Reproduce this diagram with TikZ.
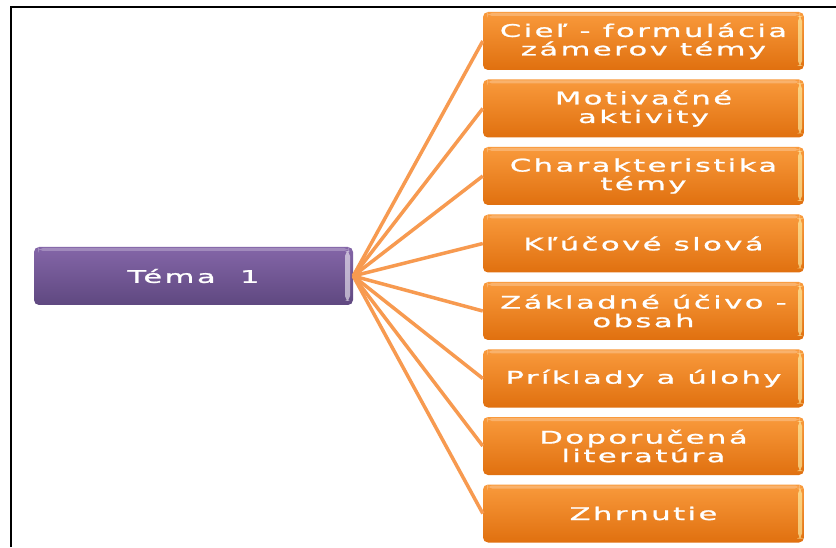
\documentclass[tikz,border=0pt]{standalone}
\usepackage{fontspec}
\newfontfamily\boxfont[FakeStretch=1.75,LetterSpace=14,FakeBold=1.2]{DejaVu Sans}
\definecolor{orangeTop}{HTML}{F99A3C}
\definecolor{orangeBot}{HTML}{E0700F}
\definecolor{purpleTop}{HTML}{8466A8}
\definecolor{purpleBot}{HTML}{5F4880}
\definecolor{linkOrange}{HTML}{F79A50}
\tikzset{
  boxbase/.style={rounded corners=5pt, minimum width=321pt, minimum height=58pt,
    text=white, align=center, inner sep=0pt,
    font=\boxfont\fontsize{17.5}{18.5}\selectfont},
  obox/.style={boxbase, top color=orangeTop, bottom color=orangeBot,
    path picture={
      \fill[yellow!30!white,opacity=0.6] ([xshift=-6pt,yshift=-4pt]path picture bounding box.north east) rectangle ([xshift=-2pt,yshift=4pt]path picture bounding box.south east);
      \fill[white,opacity=0.25] ([xshift=4pt,yshift=-1pt]path picture bounding box.north west) rectangle ([xshift=-4pt,yshift=-4pt]path picture bounding box.north east);
    }},
  pbox/.style={boxbase, minimum width=319pt, top color=purpleTop, bottom color=purpleBot,
    path picture={
      \fill[white,opacity=0.55] ([xshift=-8pt,yshift=-4pt]path picture bounding box.north east) rectangle ([xshift=-3pt,yshift=4pt]path picture bounding box.south east);
      \fill[white,opacity=0.25] ([xshift=4pt,yshift=-1pt]path picture bounding box.north west) rectangle ([xshift=-4pt,yshift=-4pt]path picture bounding box.north east);
    }},
  link/.style={draw=linkOrange, line width=3.5pt},
  frameline/.style={draw=black, line width=2.5pt}
}
\begin{document}
\begin{tikzpicture}[x=1pt,y=1pt]
\useasboundingbox (0,0) rectangle (836,547);
\fill[white] (0,0) rectangle (836,547);
\coordinate (fb) at (11,0);
\coordinate (fc) at (11,540);
\coordinate (fr) at (836,540);
\draw[frameline] (fb) -- (fc) -- (fr);

\node[pbox] (t) at (193.5,271) {Téma\ \ 1};

\node[obox] (b1) at (643.5,506) {Cieľ - formulácia\\zámerov témy};
\node[obox] (b2) at (643.5,438.5) {Motivačné\\aktivity};
\node[obox] (b3) at (643.5,371) {Charakteristika\\témy};
\node[obox] (b4) at (643.5,303.5) {Kľúčové slová};
\node[obox] (b5) at (643.5,236) {Základné účivo -\\obsah};
\node[obox] (b6) at (643.5,168.5) {Príklady a úlohy};
\node[obox] (b7) at (643.5,101) {Doporučená\\literatúra};
\node[obox] (b8) at (643.5,33.5) {Zhrnutie};

\foreach \i in {1,...,8} {
  \draw[link] (t.east) -- (b\i.west);
}
\end{tikzpicture}
\end{document}
